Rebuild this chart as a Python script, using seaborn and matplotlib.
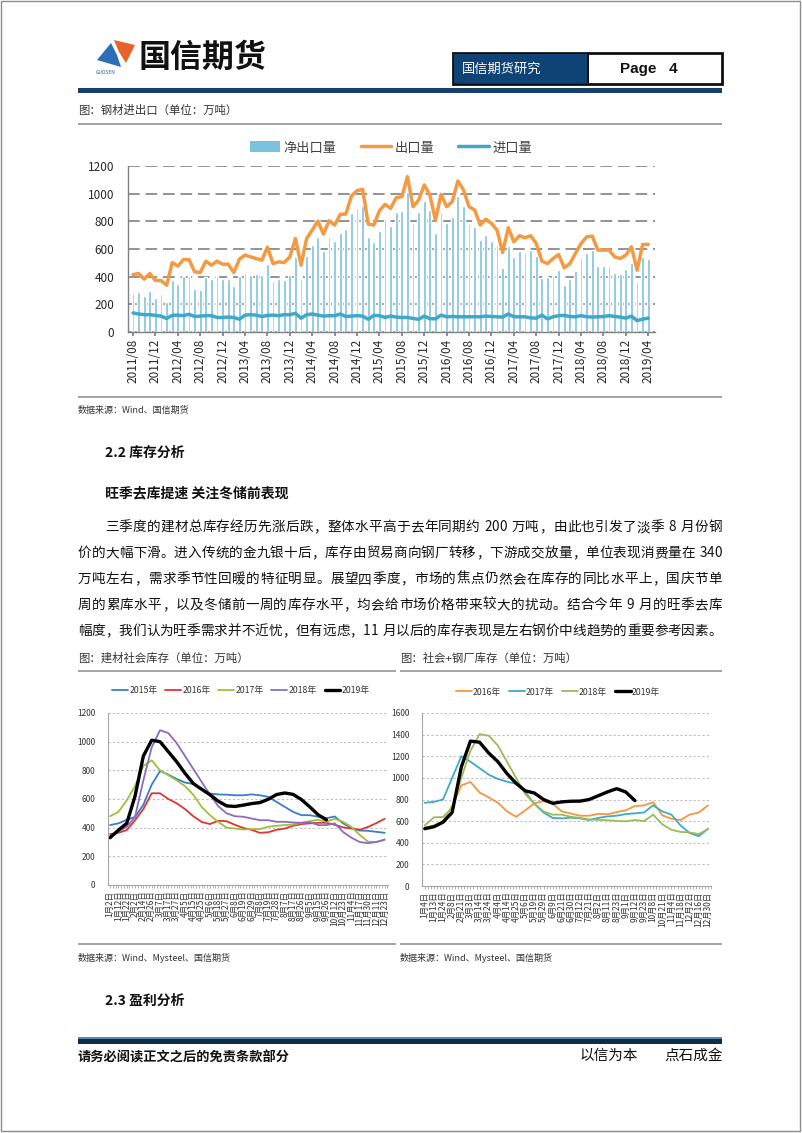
import numpy as np
import pandas as pd
import matplotlib
matplotlib.use('Agg')
import matplotlib.pyplot as plt
import seaborn as sns
from matplotlib.patches import Rectangle, Polygon, Patch
from matplotlib.lines import Line2D

# ---------------- DATA ----------------
# Chart 1: steel import/export (monthly, 2011/08 - 2019/04), 万吨
month_tick_labels = ['2011/08', '2011/12', '2012/04', '2012/08', '2012/12', '2013/04',
                     '2013/08', '2013/12', '2014/04', '2014/08', '2014/12', '2015/04',
                     '2015/08', '2015/12', '2016/04', '2016/08', '2016/12', '2017/04',
                     '2017/08', '2017/12', '2018/04', '2018/08', '2018/12', '2019/04']
export_vol = [415, 423, 382, 423, 372, 372, 338, 502, 476, 524,
              524, 435, 430, 512, 483, 512, 490, 490, 430, 527,
              556, 543, 531, 519, 613, 495, 507, 502, 543, 676,
              483, 676, 737, 802, 708, 804, 773, 850, 853, 983,
              1022, 1031, 780, 773, 877, 923, 894, 971, 978, 1123,
              906, 954, 1063, 990, 809, 995, 906, 942, 1092, 1027,
              906, 882, 773, 816, 785, 737, 575, 754, 652, 696,
              681, 696, 640, 512, 495, 531, 560, 464, 495, 568,
              640, 688, 693, 592, 592, 592, 543, 531, 556, 616,
              447, 633, 633]
net_export = [283, 287, 258, 295, 246, 278, 217, 374, 350, 406,
              406, 314, 302, 399, 386, 406, 382, 382, 333, 406,
              430, 415, 418, 411, 490, 367, 382, 374, 411, 541,
              382, 548, 628, 686, 587, 686, 657, 713, 744, 857,
              894, 913, 688, 647, 729, 816, 768, 865, 874, 1014,
              785, 865, 947, 882, 717, 870, 790, 830, 980, 910,
              780, 760, 664, 700, 660, 630, 464, 620, 540, 585,
              570, 590, 550, 390, 400, 410, 445, 340, 380, 440,
              545, 570, 590, 480, 475, 475, 430, 420, 455, 500,
              365, 540, 530]
import_vol = [138, 130, 125, 125, 120, 115, 98, 120, 122, 118,
              128, 112, 115, 118, 118, 105, 105, 108, 105, 92,
              122, 125, 122, 112, 120, 122, 118, 125, 125, 135,
              100, 125, 130, 122, 115, 118, 118, 130, 112, 115,
              118, 115, 92, 120, 118, 105, 115, 108, 105, 105,
              98, 92, 115, 96, 95, 122, 110, 112, 110, 110,
              110, 110, 110, 115, 112, 110, 108, 130, 110, 110,
              110, 102, 100, 122, 95, 110, 118, 120, 112, 110,
              118, 110, 108, 110, 112, 118, 112, 108, 100, 115,
              82, 93, 100]

# Chart 2: 建材社会库存
dates2 = ['1月2日', '1月12日', '1月22日', '2月2日', '2月14日', '2月26日', '3月7日', '3月17日',
          '3月27日', '4月5日', '4月15日', '4月25日', '5月6日', '5月18日', '5月27日', '6月8日',
          '6月19日', '6月29日', '7月8日', '7月19日', '7月28日', '8月7日', '8月17日', '8月26日',
          '9月5日', '9月15日', '9月26日', '10月12日', '10月23日', '11月4日', '11月17日',
          '11月30日', '12月11日', '12月23日']
inv2_2015 = [418, 430, 455, 475, 560, 700, 795, 770, 740, 715, 705, 670, 638, 632, 630, 626,
             626, 632, 626, 615, 580, 545, 510, 487, 487, 476, 466, 478, 430, 398, 380, 378,
             371, 364]
inv2_2016 = [355, 364, 383, 452, 530, 640, 640, 600, 570, 530, 480, 440, 425, 448, 445, 420,
             398, 385, 364, 368, 385, 394, 413, 425, 430, 434, 434, 420, 402, 394, 385, 405,
             432, 462]
inv2_2017 = [480, 510, 590, 690, 830, 870, 800, 766, 730, 690, 630, 545, 487, 440, 400, 394,
             387, 390, 390, 406, 413, 418, 422, 434, 445, 455, 442, 462, 441, 406, 350, 302,
             300, 313]
inv2_2018 = [340, 371, 406, 476, 730, 960, 1080, 1060, 990, 900, 810, 720, 630, 550, 500, 480,
             476, 464, 452, 452, 441, 441, 436, 434, 438, 418, 418, 430, 370, 330, 300, 292,
             300, 318]
inv2_2019 = [330, 383, 430, 620, 900, 1010, 1000, 930, 860, 780, 708, 668, 630, 585, 552, 548,
             557, 568, 575, 598, 631, 642, 632, 596, 545, 490, 455]

# Chart 3: 社会+钢厂库存
dates3 = ['1月4日', '1月13日', '1月24日', '2月8日', '2月21日', '3月3日', '3月14日', '3月24日',
          '4月4日', '4月14日', '4月25日', '5月6日', '5月19日', '5月29日', '6月9日', '6月21日',
          '6月30日', '7月12日', '7月21日', '8月2日', '8月11日', '8月23日', '9月1日', '9月12日',
          '9月23日', '10月8日', '10月21日', '11月4日', '11月18日', '12月2日', '12月16日', '12月30日']
inv3_2016 = [540, 560, 600, 740, 930, 962, 865, 820, 770, 690, 640, 700, 765, 785, 761, 690,
             670, 650, 650, 668, 663, 684, 700, 740, 745, 775, 654, 622, 610, 660, 680, 746]
inv3_2017 = [770, 778, 800, 1000, 1200, 1150, 1090, 1030, 990, 965, 945, 870, 760, 680, 630, 625,
             632, 625, 610, 630, 643, 650, 665, 672, 680, 746, 690, 660, 560, 490, 460, 530]
inv3_2018 = [560, 635, 638, 720, 1000, 1250, 1405, 1390, 1300, 1150, 1000, 850, 760, 690, 660, 660,
             640, 630, 615, 612, 608, 602, 598, 610, 600, 660, 570, 520, 500, 495, 480, 525]
inv3_2019 = [530, 548, 590, 680, 1100, 1340, 1330, 1230, 1150, 1040, 950, 880, 860, 800, 765, 778,
             784, 785, 800, 835, 870, 900, 870, 790]

# ---------------- SETUP ----------------
sns.set_theme(style='white')
plt.rcParams['font.family'] = ['Noto Sans CJK SC', 'DejaVu Sans']
plt.rcParams['axes.unicode_minus'] = False

W, H = 802, 1133
fig = plt.figure(figsize=(W / 100, H / 100), dpi=100, facecolor='white')


def X(x):
    return x / W


def Y(y):
    return 1 - y / H


def axrect(x0, y0, x1, y1):
    return [X(x0), Y(y1), (x1 - x0) / W, (y1 - y0) / H]


def band(x0, x1, y0, y1, color):
    fig.add_artist(Rectangle((X(x0), Y(y1)), (x1 - x0) / W, (y1 - y0) / H,
                             transform=fig.transFigure, facecolor=color, edgecolor='none', lw=0))


def txt(x, y, s, size, **kw):
    kw.setdefault('va', 'center')
    kw.setdefault('ha', 'left')
    return fig.text(X(x), Y(y), s, fontsize=size, **kw)


renderer = fig.canvas.get_renderer()


def justify(s, x0, x1, y, size, **kw):
    ws = []
    for ch in s:
        if ch == ' ':
            ws.append(size * 100 / 72 * 0.3)
            continue
        t = fig.text(0, 0, ch, fontsize=size, **kw)
        ws.append(t.get_window_extent(renderer).width)
        t.remove()
    gap = ((x1 - x0) - sum(ws)) / (len(s) - 1)
    x = x0
    for ch, w in zip(s, ws):
        if ch != ' ':
            fig.text(X(x), Y(y), ch, fontsize=size, va='center', ha='left', **kw)
        x += w + gap


# ---------------- PAGE FRAME / HEADER ----------------
fig.add_artist(Rectangle((X(1), Y(1131)), (799) / W, 1130 / H, transform=fig.transFigure,
                         facecolor='none', edgecolor='#8C8C8C', lw=1))
fig.add_artist(Polygon([(X(114), Y(40)), (X(135), Y(45)), (X(126), Y(63)), (X(119), Y(52))],
                       closed=True, transform=fig.transFigure, facecolor='#E8632B', edgecolor='none'))
fig.add_artist(Polygon([(X(111), Y(43)), (X(117), Y(55)), (X(121), Y(67)), (X(97), Y(60))],
                       closed=True, transform=fig.transFigure, facecolor='#2C6FB6', edgecolor='none'))
txt(96, 72, 'GUOSEN', 3.5, color='#2C5C9A')
txt(139, 58, '国信期货', 23, fontweight='heavy', color='#111111')

fig.add_artist(Rectangle((X(453), Y(84)), (722 - 453) / W, (84 - 53) / H, transform=fig.transFigure,
                         facecolor='white', edgecolor='#111111', lw=2))
band(454, 587, 54, 83, '#0F4275')
band(587, 589, 54, 83, '#111111')
txt(462, 69, '国信期货研究', 9.5, color='white')
txt(620, 69, 'Page   4', 11, fontweight='bold', color='#111111', family='Liberation Sans')
band(78, 722, 88, 93, '#17406A')

txt(78, 110, '图：钢材进出口（单位：万吨）', 8.2, color='#333333')
band(78, 722, 123, 125, '#A6A6A6')

# ---------------- CHART 1 ----------------
ax1 = fig.add_axes(axrect(128, 166, 655, 332))
df1 = pd.DataFrame({'idx': np.arange(len(export_vol)), 'net': net_export,
                    'exp': export_vol, 'imp': import_vol})
sns.barplot(data=df1, x='idx', y='net', color='#7CC2DC', saturation=1, width=0.5, ax=ax1, zorder=2)
sns.lineplot(data=df1, x='idx', y='exp', color='#F39A42', lw=2.5, ax=ax1, zorder=3)
sns.lineplot(data=df1, x='idx', y='imp', color='#3FA8C9', lw=2.5, ax=ax1, zorder=3)
ax1.set_ylim(0, 1200)
ax1.set_yticks(range(0, 1201, 200))
ax1.set_xlim(-0.9, 93.2)
ax1.set_xticks(np.arange(0, len(export_vol), 4))
ax1.set_xticklabels(month_tick_labels, rotation=90, fontsize=8.5, color='#262626')
ax1.tick_params(axis='y', labelsize=8.5, labelcolor='#262626', left=False, pad=4)
ax1.tick_params(axis='x', bottom=True, length=3, color='#808080', pad=2)
ax1.grid(axis='y', color='#808080', lw=1.2, ls=(0, (7, 3.5)))
ax1.set_axisbelow(True)
for s in ['top', 'right']:
    ax1.spines[s].set_visible(False)
for s in ['left', 'bottom']:
    ax1.spines[s].set_color('#808080')
    ax1.spines[s].set_linewidth(1)
ax1.set_xlabel('')
ax1.set_ylabel('')
h1 = [Patch(facecolor='#7CC2DC', edgecolor='none'),
      Line2D([], [], color='#F39A42', lw=2.5),
      Line2D([], [], color='#3FA8C9', lw=2.5)]
fig.legend(h1, ['净出口量', '出口量', '进口量'], loc='center', bbox_to_anchor=(X(391), Y(148)),
           ncol=3, frameon=False, fontsize=9.5, handlelength=2.3, handleheight=0.9,
           columnspacing=1.8, handletextpad=0.3, labelcolor='#404040')

band(78, 722, 396, 398, '#A6A6A6')
txt(78, 410, '数据来源：Wind、国信期货', 6.5, color='#333333')

# ---------------- TEXT SECTION ----------------
txt(105, 453, '2.2 库存分析', 10, fontweight='bold', color='#111111')
txt(105, 493, '旺季去库提速 关注冬储前表现', 10, fontweight='bold', color='#111111')
para = ['三季度的建材总库存经历先涨后跌，整体水平高于去年同期约 200 万吨，由此也引发了淡季 8 月份钢',
        '价的大幅下滑。进入传统的金九银十后，库存由贸易商向钢厂转移，下游成交放量，单位表现消费量在 340',
        '万吨左右，需求季节性回暖的特征明显。展望四季度，市场的焦点仍然会在库存的同比水平上，国庆节单',
        '周的累库水平，以及冬储前一周的库存水平，均会给市场价格带来较大的扰动。结合今年 9 月的旺季去库',
        '幅度，我们认为旺季需求并不近忧，但有远虑，11 月以后的库存表现是左右钢价中线趋势的重要参考因素。']
for i, line in enumerate(para):
    justify(line, 105 if i == 0 else 78, 722, 527 + 26 * i, 9.8, color='#111111')

# ---------------- CHART 2 & 3 captions ----------------
txt(78, 658, '图：建材社会库存（单位：万吨）', 8.2, color='#333333')
txt(400, 658, '图：社会+钢厂库存（单位：万吨）', 8.2, color='#333333')
band(78, 396, 670, 672, '#A6A6A6')
band(400, 722, 670, 672, '#A6A6A6')


def style_small(ax, labels, ymax, xlim):
    ax.set_ylim(0, ymax)
    ax.set_yticks(range(0, ymax + 1, 200))
    ax.set_xlim(*xlim)
    ax.set_xticks(np.arange(len(labels)))
    ax.set_xticklabels(labels, rotation=90, fontsize=6.0, color='#333333')
    ax.set_xticks(np.arange(0, len(labels) - 0.5, 1 / 3), minor=True)
    ax.tick_params(axis='x', which='both', bottom=True, length=2.5, color='#A6A6A6', pad=1.5, width=0.6)
    ax.tick_params(axis='y', labelsize=6, labelcolor='#333333', left=False, pad=3)
    ax.grid(axis='y', color='#BFBFBF', lw=0.8, ls=(0, (2, 2)))
    ax.set_axisbelow(True)
    for s in ['top', 'right']:
        ax.spines[s].set_visible(False)
    for s in ['left', 'bottom']:
        ax.spines[s].set_color('#A6A6A6')
        ax.spines[s].set_linewidth(0.8)
    ax.set_xlabel('')
    ax.set_ylabel('')


# Chart 2
ax2 = fig.add_axes(axrect(108, 713, 388, 885))
series2 = [('2015年', inv2_2015, '#3A7DC9', 1.3), ('2016年', inv2_2016, '#E3342F', 1.3),
           ('2017年', inv2_2017, '#9BC23C', 1.3), ('2018年', inv2_2018, '#8D6CC0', 1.3),
           ('2019年', inv2_2019, '#000000', 2.4)]
for name, vals, col, lw in series2:
    sns.lineplot(x=np.arange(len(vals)), y=vals, color=col, lw=lw, ax=ax2)
style_small(ax2, dates2, 1200, (-0.25, 33.4))
fig.legend([Line2D([], [], color=c, lw=lw) for _, _, c, lw in series2], [n for n, _, _, _ in series2],
           loc='center', bbox_to_anchor=(X(241), Y(691)), ncol=5, frameon=False, fontsize=6.3,
           handlelength=1.8, columnspacing=0.9, handletextpad=0.15, labelcolor='#333333')

# Chart 3
ax3 = fig.add_axes(axrect(422, 713, 711, 886))
series3 = [('2016年', inv3_2016, '#F7963E', 1.3), ('2017年', inv3_2017, '#3DAAC8', 1.3),
           ('2018年', inv3_2018, '#9BBB59', 1.3), ('2019年', inv3_2019, '#000000', 2.4)]
for name, vals, col, lw in series3:
    sns.lineplot(x=np.arange(len(vals)), y=vals, color=col, lw=lw, ax=ax3)
style_small(ax3, dates3, 1600, (-0.3, 31.15))
fig.legend([Line2D([], [], color=c, lw=lw) for _, _, c, lw in series3], [n for n, _, _, _ in series3],
           loc='center', bbox_to_anchor=(X(558), Y(692)), ncol=4, frameon=False, fontsize=6.3,
           handlelength=1.8, columnspacing=0.9, handletextpad=0.15, labelcolor='#333333')

band(78, 396, 943, 945, '#A6A6A6')
band(400, 722, 943, 945, '#A6A6A6')
txt(78, 958, '数据来源：Wind、Mysteel、国信期货', 6.5, color='#333333')
txt(400, 958, '数据来源：Wind、Mysteel、国信期货', 6.5, color='#333333')

txt(105, 1001, '2.3 盈利分析', 10, fontweight='bold', color='#111111')

# ---------------- FOOTER ----------------
band(78, 722, 1037, 1038.5, '#5D87B3')
band(78, 722, 1038.5, 1044, '#0E2C4C')
txt(78, 1058, '请务必阅读正文之后的免责条款部分', 9.5, fontweight='bold', color='#111111')
txt(580, 1056, '以信为本', 10.5, color='#111111')
txt(664, 1056, '点石成金', 10.5, color='#111111')

fig.savefig('out.png', dpi=100, facecolor='white')
